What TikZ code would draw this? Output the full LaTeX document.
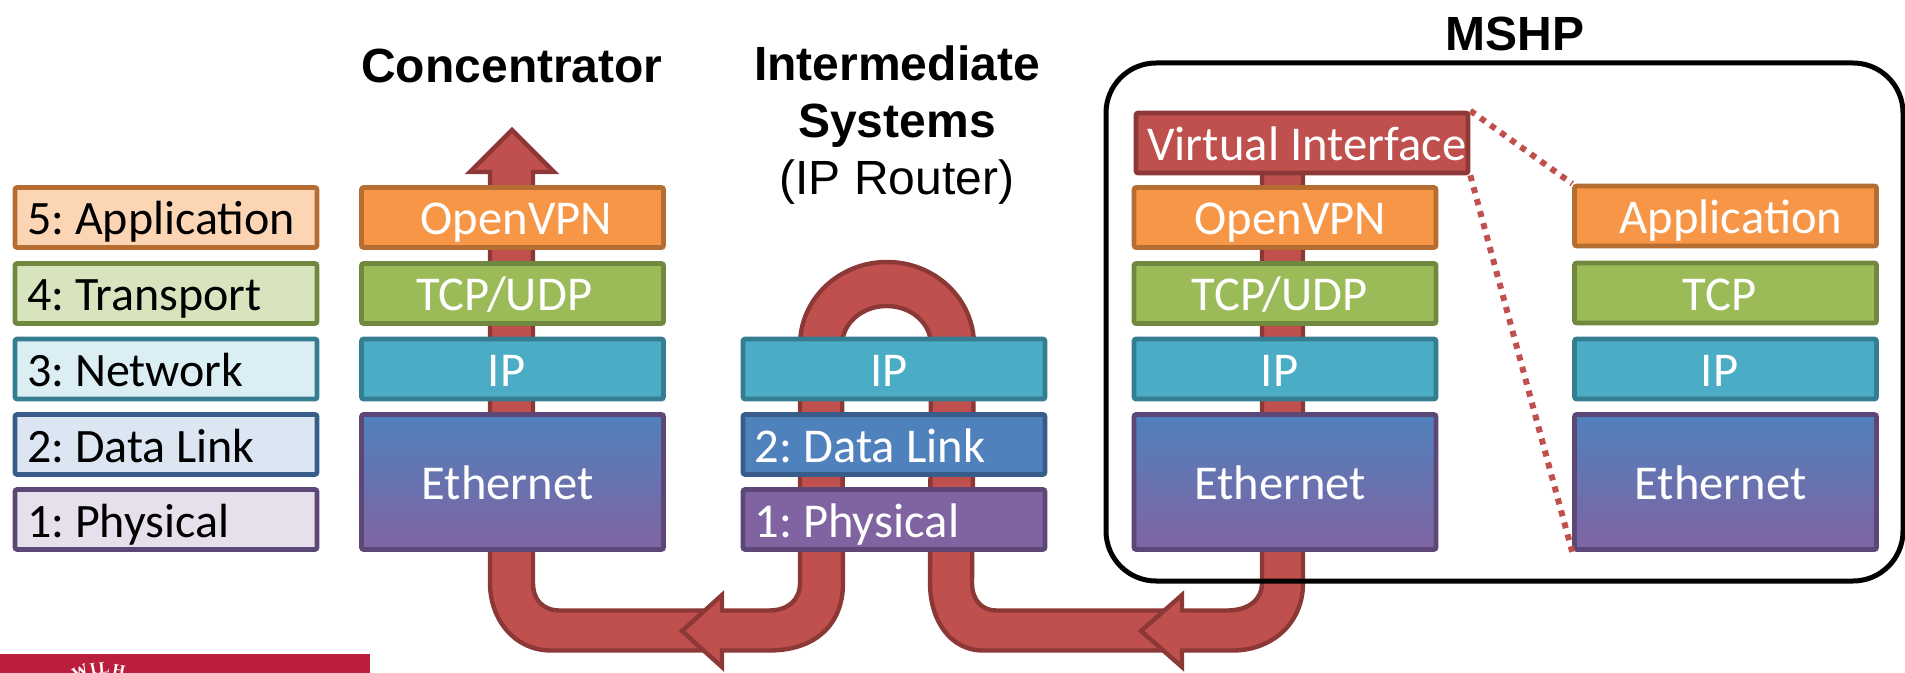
\documentclass[tikz,border=0pt]{standalone}
\usepackage{fontspec}
\setmainfont{Carlito}
\newfontfamily\headfont{Liberation Sans}
\newfontfamily\sealfont{Liberation Serif}
\frenchspacing
\definecolor{pipered}{HTML}{C0504D}
\definecolor{pipeedge}{HTML}{8C3836}
\definecolor{orangefill}{HTML}{F79646}
\definecolor{orangeedge}{HTML}{B66D31}
\definecolor{greenfill}{HTML}{9BBB59}
\definecolor{greenedge}{HTML}{71893F}
\definecolor{tealfill}{HTML}{4BACC6}
\definecolor{tealedge}{HTML}{357D91}
\definecolor{bluefill}{HTML}{4F81BD}
\definecolor{blueedge}{HTML}{385D8A}
\definecolor{purplefill}{HTML}{8064A2}
\definecolor{purpleedge}{HTML}{5C4776}
\definecolor{sealred}{HTML}{BB1E3C}
% moves a label inside its box, the box stays
\newcommand{\nudge}[2]{\hspace*{#1}#2\hspace*{-#1}}
\tikzset{
  layerbox/.style={draw,line width=2.3pt,rounded corners=1pt,inner sep=0pt,minimum width=151pt,
    text=white,font=\fontsize{24.3}{28}\selectfont,text height=17.5pt,text depth=0pt},
  thinrow/.style={layerbox,minimum height=30pt},
  tallrow/.style={layerbox,minimum height=67.5pt},
  orangerow/.style={thinrow,fill=orangefill,draw=orangeedge},
  greenrow/.style={thinrow,fill=greenfill,draw=greenedge},
  tealrow/.style={thinrow,fill=tealfill,draw=tealedge},
  bluerow/.style={thinrow,fill=bluefill,draw=blueedge},
  purplerow/.style={thinrow,fill=purplefill,draw=purpleedge},
  ethrow/.style={tallrow,top color=bluefill,bottom color=purplefill,draw=purpleedge},
  legendrow/.style={thinrow,text=black,align=flush left,text width=139pt,font=\fontsize{24}{28}\selectfont},
  pipe/.style={fill=pipered,draw=pipeedge,line width=2.2pt},
  headline/.style={font=\headfont\bfseries\fontsize{24}{28}\selectfont,inner sep=0pt},
  plainline/.style={font=\headfont\fontsize{24}{28}\selectfont,inner sep=0pt},
  zoomline/.style={draw=pipered,line width=3pt,dash pattern=on 3pt off 3.2pt},
  sealletter/.style={text=white,font=\sealfont\bfseries\fontsize{8}{9}\selectfont,inner sep=0pt}
}
\begin{document}
\begin{tikzpicture}[x=0.5pt,y=-0.5pt]
  \useasboundingbox (0,0) rectangle (1905,673);
  % seal strip
  \begin{scope}
    \clip (0,654) rectangle (370,673);
    \fill[sealred] (0,654) rectangle (370,673);
    \node[sealletter,rotate=24] (sealW) at (80,672) {W};
    \node[sealletter,rotate=12] (sealI) at (93,669) {I};
    \node[sealletter,rotate=4] (sealL) at (104,668) {L};
    \node[sealletter,rotate=-10] (sealH) at (119,670) {H};
  \end{scope}
  % pipes behind the stacks
  \draw[pipe] (512,130)--(554,172)--(533,172)--(533,583) .. controls (533,600) and (543,610.5) .. (560,610.5)--(710,610.5)--(710,650.5)--(551,650.5) .. controls (515,650.5) and (490,620) .. (490,583)--(490,172)--(470,172)--cycle;
  \draw[pipe] (682,631)--(722,595)--(722,610.5)--(769,610.5) .. controls (788,610.5) and (800,600) .. (800,583)--(800,345) .. controls (800,299) and (839,262) .. (887,262) .. controls (935,262) and (974,299) .. (974,345)--(972,583) .. controls (972,600) and (982,610.5) .. (996,610.5)--(1165,610.5)--(1165,650.5)--(983,650.5) .. controls (950,650.5) and (930,620) .. (930,583)--(931,345) .. controls (931,323.5) and (911.6,306) .. (886.5,306) .. controls (862,306) and (842,323.5) .. (842,345)--(843,583) .. controls (843,625) and (815,650.5) .. (769,650.5)--(722,650.5)--(722,667)--cycle;
  \draw[pipe] (1141,631)--(1182,595)--(1182,610.5)--(1227,610.5) .. controls (1248,610.5) and (1262,600) .. (1262,583)--(1262,140)--(1303,140)--(1303,583) .. controls (1303,625) and (1270,650.5) .. (1233,650.5)--(1182,650.5)--(1182,667)--cycle;
  % titles
  \node[headline] (concTitle) at (512,66) {Concentrator};
  \node[headline] (interTitle) at (897,63) {Intermediate};
  \node[headline] (sysTitle) at (897,126) {Systems};
  \node[plainline] (routerTitle) at (897,182.5) {(IP Router)};
  \node[headline] (mshpTitle) at (1515,34) {MSHP};
  % legend
  \node[legendrow,fill=orangefill!40!white,draw=orangeedge] (legApp) at (166,217.5) {5: Application};
  \node[legendrow,fill=greenfill!40!white,draw=greenedge] (legTrans) at (166,293.5) {4: Transport};
  \node[legendrow,fill=tealfill!20!white,draw=tealedge] (legNet) at (166,369) {3: Network};
  \node[legendrow,fill=bluefill!20!white,draw=blueedge] (legLink) at (166,444.5) {2: Data Link};
  \node[legendrow,fill=purplefill!20!white,draw=purpleedge] (legPhy) at (166,519.5) {1: Physical};
  % concentrator
  \node[orangerow] (concVpn) at (512.5,217.5) {\nudge{2pt}{OpenVPN}};
  \node[greenrow] (concTcp) at (512.5,293.5) {\nudge{-4.2pt}{TCP/UDP}};
  \node[tealrow] (concIp) at (512.5,369) {\nudge{-3pt}{IP}};
  \node[ethrow] (concEth) at (512.5,482) {\nudge{-2.4pt}{Ethernet}};
  % router
  \node[tealrow] (routIp) at (894,369) {\nudge{-2.4pt}{IP}};
  \node[bluerow] (routLink) at (894,444.5) {\nudge{-12pt}{2: Data Link}};
  \node[purplerow] (routPhy) at (894,519.5) {\nudge{-18.6pt}{1: Physical}};
  % mshp
  \node[thinrow,fill=pipered,draw=pipeedge,minimum width=166pt] (mshpVirt) at (1302,143) {\nudge{2.4pt}{Virtual Interface}};
  \node[orangerow] (mshpVpn) at (1285,217.5) {\nudge{2.7pt}{OpenVPN}};
  \node[greenrow] (mshpTcp) at (1285,293.5) {\nudge{-2.7pt}{TCP/UDP}};
  \node[tealrow] (mshpIp) at (1285,369) {\nudge{-2.7pt}{IP}};
  \node[ethrow] (mshpEth) at (1285,482) {\nudge{-2.4pt}{Ethernet}};
  \node[orangerow] (appApp) at (1725.5,216) {\nudge{2.7pt}{Application}};
  \node[greenrow] (appTcp) at (1725.5,293) {\nudge{-3pt}{TCP}};
  \node[tealrow] (appIp) at (1725.5,369) {\nudge{-3pt}{IP}};
  \node[ethrow] (appEth) at (1725.5,482) {\nudge{-2.4pt}{Ethernet}};
  \draw[zoomline] (mshpVirt.north east)--(appApp.north west);
  \draw[zoomline] (mshpVirt.south east)--(appEth.south west);
  \draw[black,line width=2.5pt,rounded corners=25pt] (1106,63) rectangle (1903,581);
\end{tikzpicture}
\end{document}
